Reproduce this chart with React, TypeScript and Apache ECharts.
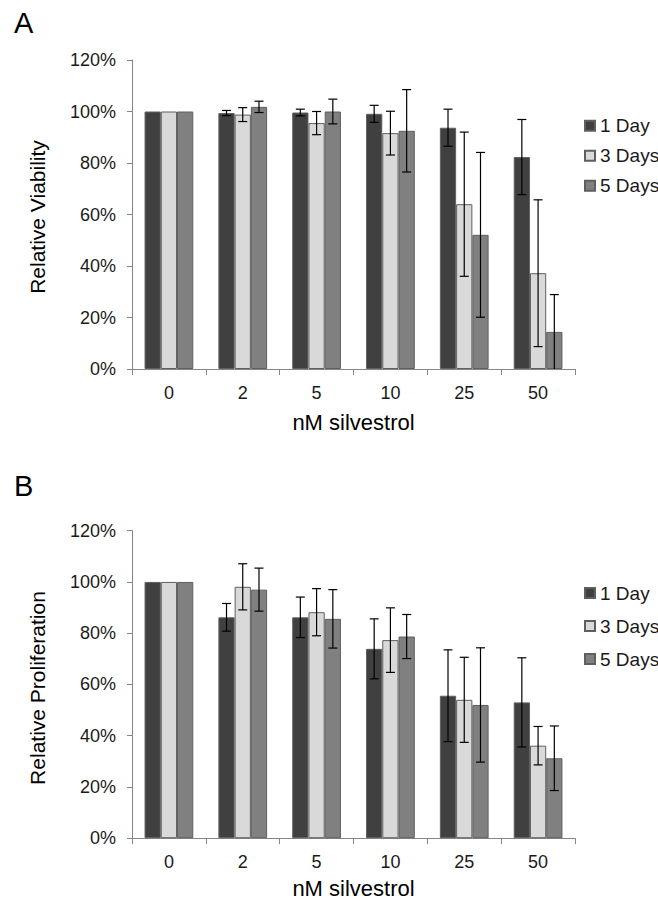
import React, { useEffect, useRef } from "react";
import * as echarts from "echarts";

const categories = ["0", "2", "5", "10", "25", "50"];
const seriesNames = ["1 Day", "3 Days", "5 Days"];
const seriesColors = ["#404040", "#d9d9d9", "#808080"];

// Panel A: Relative Viability (%)
const viability1Day = [100, 99.4, 99.6, 99.1, 93.7, 82.3];
const viability3Days = [100, 98.8, 95.5, 91.6, 64.0, 37.2];
const viability5Days = [100, 101.8, 100, 92.5, 52.1, 14.4];
const viabilityErr1Day = [0, 1, 1.3, 3.3, 7.2, 14.6];
const viabilityErr3Days = [0, 2.7, 4.5, 8.5, 28, 28.5];
const viabilityErr5Days = [0, 2.2, 4.8, 16, 32, 14.5];

// Panel B: Relative Proliferation (%)
const prolif1Day = [100, 86.2, 86.2, 73.9, 55.6, 53.0];
const prolif3Days = [100, 98.1, 88.2, 77.3, 54.0, 36.1];
const prolif5Days = [100, 97.0, 85.6, 78.7, 52.0, 31.2];
const prolifErr1Day = [0, 5.4, 7.9, 11.7, 17.9, 17.4];
const prolifErr3Days = [0, 9, 9.2, 12.6, 16.6, 7.5];
const prolifErr5Days = [0, 8.4, 11.4, 8.6, 22.3, 12.6];

const yTicks = { min: 0, max: 120, interval: 20 };

const FONT = "'Liberation Sans', Arial, sans-serif";
const AXIS_COLOR = "#868686";
const GAP = 0.34;

export default function App() {
  const ref = useRef<HTMLDivElement>(null);

  useEffect(() => {
    if (!ref.current) return;
    const chart = echarts.init(ref.current, null, { renderer: "svg" });

    const panels = [
      { values: [viability1Day, viability3Days, viability5Days], errs: [viabilityErr1Day, viabilityErr3Days, viabilityErr5Days] },
      { values: [prolif1Day, prolif3Days, prolif5Days], errs: [prolifErr1Day, prolifErr3Days, prolifErr5Days] },
    ];

    const grids = [
      { left: 132, top: 60, width: 443, height: 309 },
      { left: 132, top: 530.7, width: 443, height: 307.5 },
    ];

    const xAxes = grids.map((_, i) => ({
      type: "category",
      gridIndex: i,
      data: categories,
      boundaryGap: true,
      axisLine: { show: true, lineStyle: { color: AXIS_COLOR, width: 1 } },
      axisTick: { show: true, alignWithLabel: false, length: 6, lineStyle: { color: AXIS_COLOR } },
      axisLabel: { color: "#1a1a1a", fontSize: 18, fontFamily: FONT, margin: 15 },
      splitLine: { show: false },
    }));

    const yAxes = grids.map((_, i) => ({
      type: "value",
      gridIndex: i,
      min: yTicks.min,
      max: yTicks.max,
      interval: yTicks.interval,
      axisLine: { show: true, lineStyle: { color: AXIS_COLOR, width: 1 } },
      axisTick: { show: true, length: 5, lineStyle: { color: AXIS_COLOR } },
      axisLabel: { color: "#1a1a1a", fontSize: 18, fontFamily: FONT, margin: 16, formatter: "{value}%" },
      splitLine: { show: false },
    }));

    const series: any[] = [];
    panels.forEach((p, gi) => {
      p.values.forEach((vals, si) => {
        series.push({
          type: "bar",
          name: seriesNames[si],
          xAxisIndex: gi,
          yAxisIndex: gi,
          data: vals,
          barGap: "0%",
          barCategoryGap: GAP * 100 + "%",
          itemStyle: { color: seriesColors[si], borderColor: "#5f5f5f", borderWidth: 1 },
          z: 2,
        });
      });
      p.values.forEach((vals, si) => {
        const errData = vals.map((v, ci) => [ci, v, p.errs[si][ci]]);
        series.push({
          type: "custom",
          name: "err" + gi + "_" + si,
          xAxisIndex: gi,
          yAxisIndex: gi,
          data: errData,
          z: 5,
          silent: true,
          renderItem: (params: any, api: any) => {
            const ci = api.value(0);
            const v = api.value(1);
            const e = api.value(2);
            if (!e) return null;
            const band = api.size([1, 0])[0];
            const bw = (band * (1 - GAP)) / 3;
            const center = api.coord([ci, v]);
            const x = center[0] + (si - 1) * bw;
            const lo = Math.max(0, v - e);
            const top = api.coord([ci, v + e])[1];
            const bot = api.coord([ci, lo])[1];
            const cap = 4.5;
            const style = { stroke: "#000", lineWidth: 1.2 };
            const children: any[] = [
              { type: "line", shape: { x1: x, y1: top, x2: x, y2: bot }, style },
              { type: "line", shape: { x1: x - cap, y1: top, x2: x + cap, y2: top }, style },
            ];
            if (v - e > 0) {
              children.push({ type: "line", shape: { x1: x - cap, y1: bot, x2: x + cap, y2: bot }, style });
            }
            return { type: "group", children };
          },
        });
      });
    });

    const legendCommon = {
      orient: "vertical",
      left: 579,
      itemWidth: 10,
      itemHeight: 10,
      icon: "rect",
      data: seriesNames,
      selectedMode: false,
      textStyle: { fontSize: 19, fontFamily: FONT, color: "#1a1a1a", lineHeight: 20, padding: [0, 0, 0, 0] },
    };

    const titleStyle = { fontSize: 21, fontFamily: FONT, fill: "#000" };

    chart.setOption({
      animation: false,
      backgroundColor: "#fff",
      grid: grids.map((g) => ({ ...g, containLabel: false })),
      xAxis: xAxes,
      yAxis: yAxes,
      legend: [
        { ...legendCommon, top: 110.7, itemGap: 10 },
        { ...legendCommon, top: 578, itemGap: 13 },
      ],
      series,
      graphic: [
        { type: "text", left: 14, top: 8, style: { text: "A", fontSize: 29, fontFamily: FONT, fill: "#000" } },
        { type: "text", left: 14, top: 471, style: { text: "B", fontSize: 29, fontFamily: FONT, fill: "#000" } },
        {
          type: "text", x: 37, y: 217, rotation: Math.PI / 2,
          style: { ...titleStyle, text: "Relative Viability", textAlign: "center", textVerticalAlign: "middle" },
        },
        {
          type: "text", x: 37, y: 688, rotation: Math.PI / 2,
          style: { ...titleStyle, text: "Relative Proliferation", textAlign: "center", textVerticalAlign: "middle" },
        },
        {
          type: "text", x: 353.5, y: 422,
          style: { ...titleStyle, fontSize: 22, text: "nM silvestrol", textAlign: "center", textVerticalAlign: "middle" },
        },
        {
          type: "text", x: 353.5, y: 888,
          style: { ...titleStyle, fontSize: 22, text: "nM silvestrol", textAlign: "center", textVerticalAlign: "middle" },
        },
      ],
    });

    return () => chart.dispose();
  }, []);

  return (
    <div
      ref={ref}
      style={{ position: "absolute", left: 0, top: 0, width: 658, height: 905, background: "#fff" }}
    />
  );
}
